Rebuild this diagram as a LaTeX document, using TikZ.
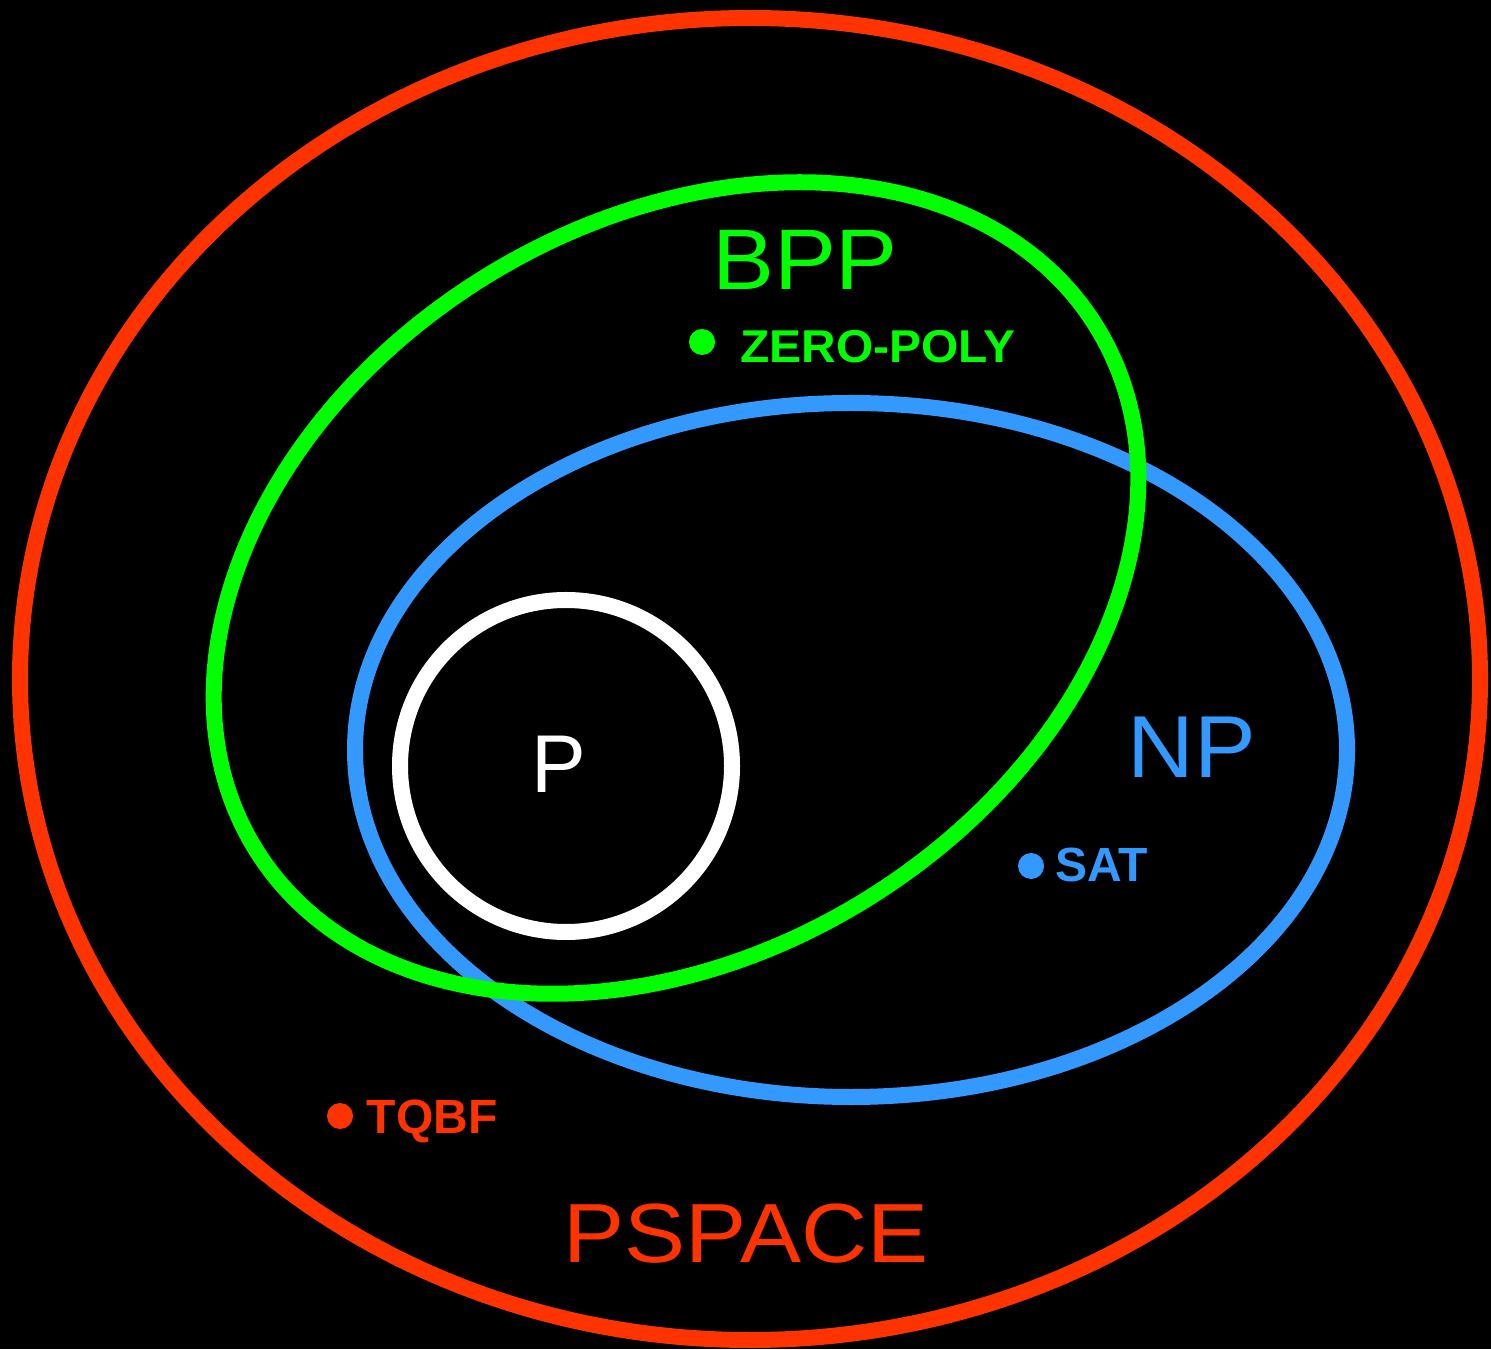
\documentclass[tikz,border=0pt]{standalone}
\usepackage{graphicx}
\usepackage{fontspec}
\setmainfont{Liberation Sans}
\definecolor{cred}{HTML}{FF3300}
\definecolor{cgreen}{HTML}{00FF00}
\definecolor{cblue}{HTML}{3399FF}
\begin{document}
\begin{tikzpicture}[x=0.5pt,y=0.5pt,
  ring/.style={line width=8pt},
  biglabel/.style={anchor=base,inner sep=0pt},
  smalllabel/.style={anchor=base,inner sep=0pt,font=\bfseries\fontsize{24}{28}\selectfont},
  dotmark/.style={circle,inner sep=0pt,minimum size=13pt}]
\fill[black] (0,0) rectangle (1491,1349);
\useasboundingbox (0,0) rectangle (1491,1349);
% PSPACE
\draw[ring,cred] (750,670) ellipse [x radius=730, y radius=661];
% NP
\draw[ring,cblue] (851,599) ellipse [x radius=496, y radius=347];
% BPP
\draw[ring,cgreen,rotate around={32:(676,761)}] (676,761) ellipse [x radius=495, y radius=365];
% P
\draw[ring,white] (566,583) circle [radius=166];
% labels
\node[biglabel,cgreen,font=\fontsize{43}{50}\selectfont] (bpp) at (805,1059) {\scalebox{1.08}[1]{BPP}};
\node[biglabel,cblue,font=\fontsize{44}{50}\selectfont] (np) at (1192,571) {\scalebox{1.05}[1]{NP}};
\node[biglabel,white,font=\fontsize{41}{50}\selectfont] (p) at (559,556) {P};
\node[biglabel,cred,font=\fontsize{42}{50}\selectfont] (pspace) at (746,87) {\scalebox{1.09}[1]{PSPACE}};
\node[smalllabel,cgreen,font=\bfseries\fontsize{23}{28}\selectfont] (zp) at (878,986) {\scalebox{1.04}[1]{ZERO-POLY}};
\node[smalllabel,cblue] (sat) at (1102,467) {SAT};
\node[smalllabel,cred] (tqbf) at (432,216) {TQBF};
\node[dotmark,fill=cgreen] (zpdot) at (702,1007) {};
\node[dotmark,fill=cblue] (satdot) at (1031,483) {};
\node[dotmark,fill=cred] (tqbfdot) at (340,233) {};
\end{tikzpicture}
\end{document}
